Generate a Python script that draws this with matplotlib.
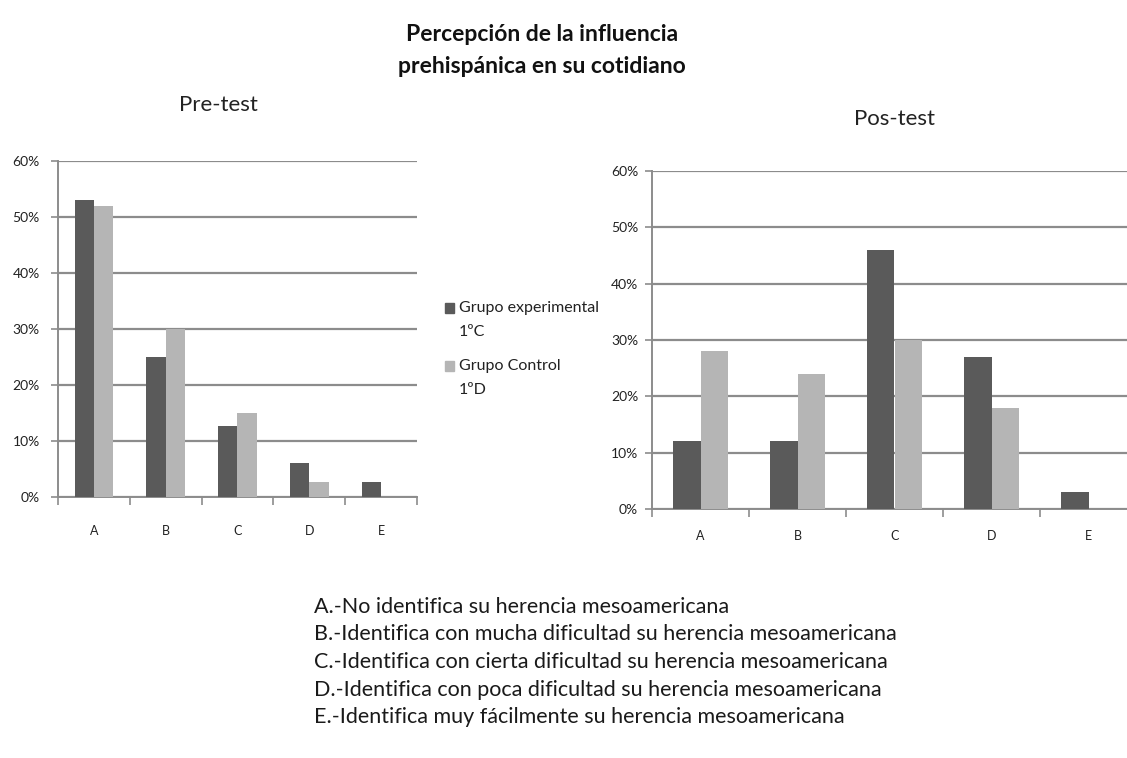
import matplotlib
matplotlib.use('Agg')
import matplotlib.pyplot as plt
import numpy as np
from matplotlib.patches import Rectangle
from matplotlib.ticker import FixedLocator, PercentFormatter

plt.rcParams['font.family'] = ['Lato', 'DejaVu Sans']

categorias = ['A', 'B', 'C', 'D', 'E']
pre_experimental = [53, 25, 12.6, 6, 2.6]
pre_control = [52, 30, 15, 2.6, 0]
pos_experimental = [12, 12, 46, 27, 3]
pos_control = [28, 24, 30, 18, 0]

serie_exp = 'Grupo experimental'
serie_exp_sub = '1ºC'
serie_ctrl = 'Grupo Control'
serie_ctrl_sub = '1ºD'

leyenda = [
    'A.-No identifica su herencia mesoamericana',
    'B.-Identifica con mucha dificultad su herencia mesoamericana',
    'C.-Identifica con cierta dificultad su herencia mesoamericana',
    'D.-Identifica con poca dificultad su herencia mesoamericana',
    'E.-Identifica muy fácilmente su herencia mesoamericana',
]

oscuro = '#5a5a5a'
claro = '#b5b5b5'
gris = '#8c8c8c'
texto = '#222222'

W, H = 1127, 758
fig = plt.figure(figsize=(W / 100, H / 100), dpi=100)


def fx(px):
    return px / W


def fy(py):
    return 1 - py / H


def px_axes(x0, x1, y_top, y_bot):
    return fig.add_axes([x0 / W, 1 - y_bot / H, (x1 - x0) / W, (y_bot - y_top) / H])


def dibujar(ax, exp, ctrl, ancho, pad_x, pad_y):
    x = np.arange(len(categorias))
    ax.bar(x - ancho / 2, exp, ancho, color=oscuro, zorder=3)
    ax.bar(x + ancho / 2, ctrl, ancho, color=claro, zorder=3)
    ax.set_xlim(-0.5, len(categorias) - 0.5)
    ax.set_ylim(0, 60)
    ax.yaxis.set_major_locator(FixedLocator(range(0, 61, 10)))
    ax.yaxis.set_major_formatter(PercentFormatter(decimals=0))
    ax.grid(axis='y', color=gris, lw=1.6, zorder=1)
    ax.set_axisbelow(True)
    for s in ['top', 'right']:
        ax.spines[s].set_visible(False)
    for s in ['left', 'bottom']:
        ax.spines[s].set_color(gris)
        ax.spines[s].set_linewidth(1.4)
    # ticks mayores en los bordes de categoría, etiquetas en los centros
    ax.set_xticks(np.arange(len(categorias) + 1) - 0.5)
    ax.set_xticklabels([])
    ax.set_xticks(x, minor=True)
    ax.set_xticklabels(categorias, minor=True, fontsize=9, color=texto)
    ax.tick_params(axis='x', which='major', length=6, width=1.2, color=gris, direction='out')
    ax.tick_params(axis='x', which='minor', length=0, pad=pad_x)
    ax.tick_params(axis='y', length=5, width=1.2, color=gris, pad=pad_y,
                   labelsize=10, labelcolor=texto)


ax1 = px_axes(58, 417, 161, 497)
dibujar(ax1, pre_experimental, pre_control, 0.27, 20, 8)

ax2 = px_axes(652, 1137, 171, 509)
dibujar(ax2, pos_experimental, pos_control, 0.28, 15, 5)

fig.text(fx(218), fy(105), 'Pre-test', ha='center', va='center', fontsize=16, color=texto)
fig.text(fx(895), fy(119), 'Pos-test', ha='center', va='center', fontsize=16, color=texto)

fig.text(fx(542), fy(41), 'Percepción de la influencia', ha='center', va='baseline',
         fontsize=16.5, fontweight='bold', color='#111111')
fig.text(fx(542), fy(73), 'prehispánica en su cotidiano', ha='center', va='baseline',
         fontsize=16.5, fontweight='bold', color='#111111')

# leyenda
for y_px, color, nombre, sub in [(308, oscuro, serie_exp, serie_exp_sub),
                                 (366, claro, serie_ctrl, serie_ctrl_sub)]:
    fig.add_artist(Rectangle((fx(445), fy(y_px + 5)), 9 / W, 10 / H,
                             transform=fig.transFigure, color=color))
    fig.text(fx(459), fy(y_px), nombre, va='center', fontsize=11.5, color=texto)
    fig.text(fx(459), fy(y_px + 24), sub, va='center', fontsize=11.5, color=texto)

for i, linea in enumerate(leyenda):
    fig.text(fx(314), fy(607 + 27.5 * i), linea, va='center', fontsize=15.5,
             color='#1a1a1a')

fig.savefig('out.png', dpi=100)
